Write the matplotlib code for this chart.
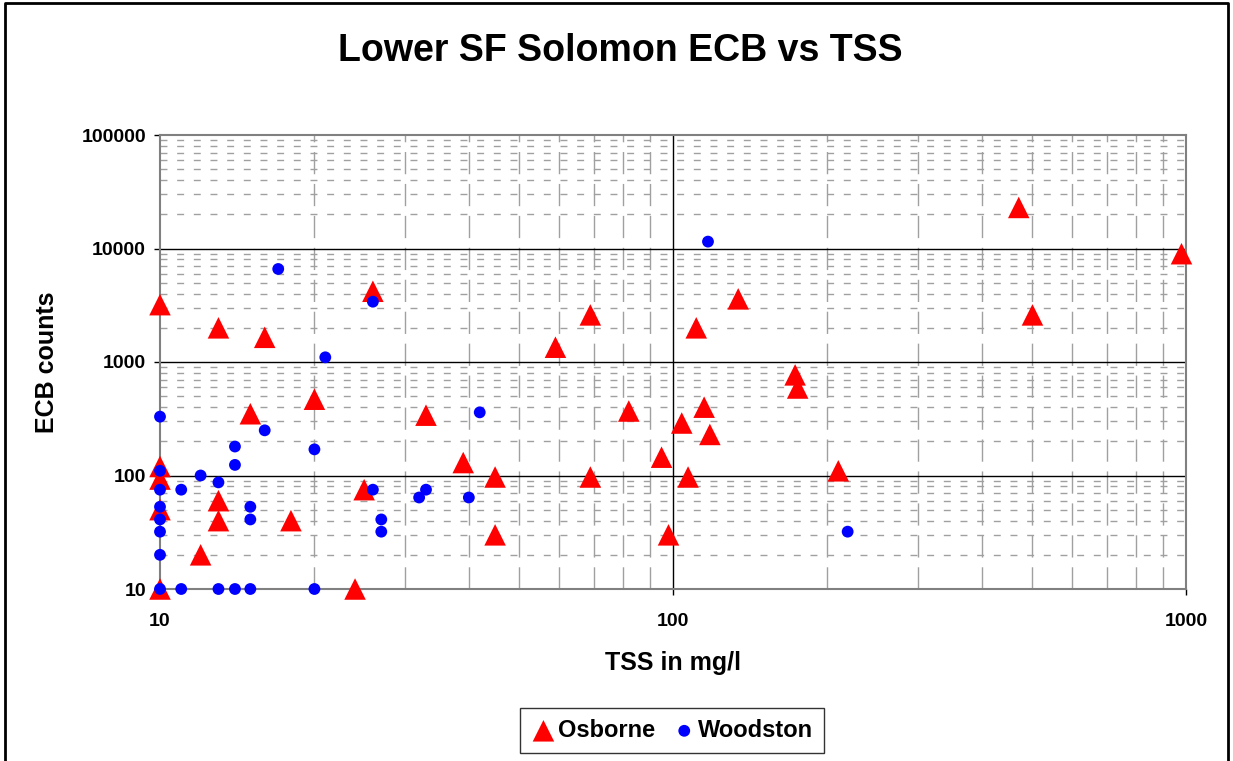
import numpy as np
import matplotlib.pyplot as plt
from matplotlib.lines import Line2D
from matplotlib.ticker import FixedLocator

plt.rcParams['font.family'] = ['Liberation Sans', 'DejaVu Sans']
plt.rcParams['lines.scale_dashes'] = False

# Osborne data (TSS mg/l, ECB counts)
osb_tss = [10, 13, 16, 10, 10, 10, 10, 15, 20, 13, 13, 12, 18, 25, 24, 26, 33, 39, 45, 45,
           59, 69, 69, 82, 95, 98, 104, 107, 111, 115, 118, 134, 173, 175, 210, 472, 502, 980]
osb_ecb = [3200, 2000, 1650, 120, 93, 50, 10, 350, 470, 60, 40, 20, 40, 75, 10, 4200, 340, 130, 97, 30,
           1350, 2600, 97, 370, 145, 30, 290, 97, 2000, 400, 230, 3600, 770, 590, 110, 23000, 2600, 9000]

# Woodston data
wood_tss = [10, 21, 26, 17, 117, 16, 14, 14, 20, 42, 10, 10, 11, 12, 13, 10, 10, 10, 10, 10,
            11, 13, 14, 15, 20, 15, 15, 26, 27, 27, 32, 33, 40, 219]
wood_ecb = [330, 1100, 3400, 6600, 11500, 250, 180, 124, 170, 360, 110, 75, 75, 100, 87, 53, 41, 32, 20, 10,
            10, 10, 10, 10, 10, 53, 41, 75, 41, 32, 64, 75, 64, 32]

x_ticks = [10, 100, 1000]
y_ticks = [10, 100, 1000, 10000, 100000]

fig = plt.figure(figsize=(12.33, 7.61), dpi=100)
ax = fig.add_axes([160/1233, 1-589/761, (1186-160)/1233, (589-135)/761])

ax.set_xscale('log')
ax.set_yscale('log')
ax.set_xlim(10, 1000)
ax.set_ylim(10, 100000)

# grid lines
minor = [m * 10.0**k for k in range(0, 6) for m in range(2, 10)]
for v in minor:
    if 10 < v < 100000:
        ax.axhline(v, color='#a0a0a0', lw=1.0, ls=(0, (5, 7)), zorder=1)
    if 10 < v < 1000:
        ax.axvline(v, color='#a0a0a0', lw=1.0, ls=(0, (16, 7)), zorder=1)
for v in [100, 1000, 10000]:
    ax.axhline(v, color='black', lw=1.0, zorder=1.5)
ax.axvline(100, color='black', lw=1.0, zorder=1.5)

ax.scatter(osb_tss, osb_ecb, marker='^', s=15.5**2, color='red', edgecolors='none',
           zorder=3, clip_on=False, label='Osborne')
ax.scatter(wood_tss, wood_ecb, marker='o', s=8.5**2, color='blue', edgecolors='none',
           zorder=4, clip_on=False, label='Woodston')

for s in ax.spines.values():
    s.set_color('#808080')
    s.set_linewidth(1.5)

ax.xaxis.set_major_locator(FixedLocator(x_ticks))
ax.yaxis.set_major_locator(FixedLocator(y_ticks))
ax.xaxis.set_minor_locator(FixedLocator([]))
ax.yaxis.set_minor_locator(FixedLocator([]))
ax.set_xticklabels([str(t) for t in x_ticks])
ax.set_yticklabels([str(t) for t in y_ticks])
ax.tick_params(axis='both', direction='out', length=4, width=1, color='black', labelsize=14)
ax.tick_params(axis='x', pad=13)
ax.tick_params(axis='y', pad=6)
for lab in ax.get_xticklabels() + ax.get_yticklabels():
    lab.set_fontweight('bold')

ax.set_xlabel('TSS in mg/l', fontsize=18, fontweight='bold', va='center')
ax.xaxis.set_label_coords(0.5, (589-663)/454)
ax.set_ylabel('ECB counts', fontsize=18, fontweight='bold', va='center')
ax.yaxis.set_label_coords((47-160)/1026, 0.5)
fig.text(620/1233, 1-51/761, 'Lower SF Solomon ECB vs TSS', fontsize=27, fontweight='bold',
         ha='center', va='center')

leg = fig.legend(loc='center', bbox_to_anchor=(672/1233, 1-730.5/761), ncol=2,
                 prop={'size': 17, 'weight': 'bold'}, frameon=True, fancybox=False,
                 handletextpad=0.05, columnspacing=0.7, borderpad=0.45, handlelength=1.1)
leg.get_frame().set_edgecolor('black')
leg.get_frame().set_linewidth(1.0)

# outer border
fig.add_artist(Line2D([5/1233, 5/1233, 1228/1233, 1228/1233], [0, 1-3/761, 1-3/761, 0],
                      transform=fig.transFigure, color='black', lw=2))

fig.savefig('out.png', dpi=100)
